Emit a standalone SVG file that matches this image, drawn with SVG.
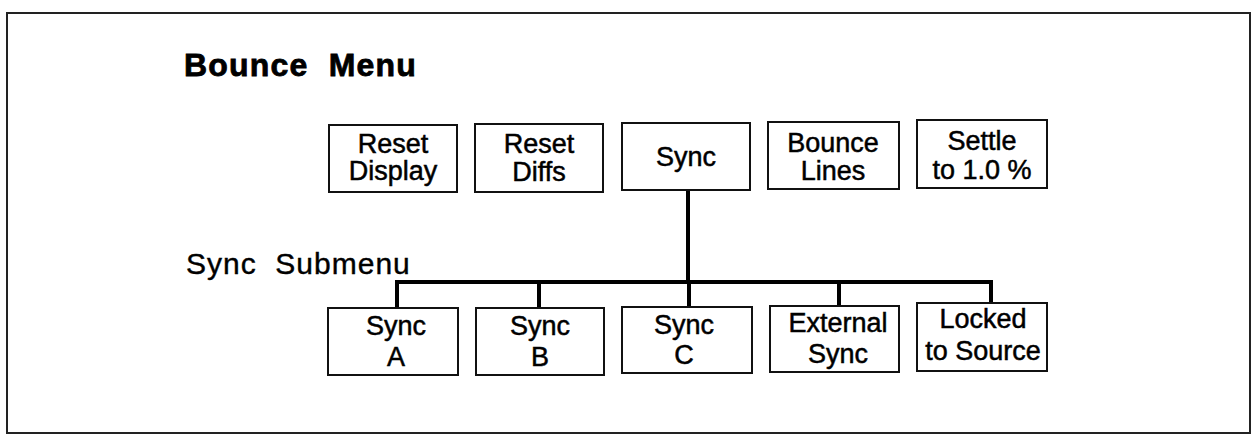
<svg xmlns="http://www.w3.org/2000/svg" width="1258" height="434" viewBox="0 0 1258 434">
<style>
.box{fill:#fff;stroke:#111;stroke-width:2}
.t{font-family:"Liberation Sans",Arial,sans-serif;font-size:27px;fill:#000;stroke:#000;stroke-width:0.5;text-anchor:middle}
.conn{fill:none;stroke:#000;stroke-width:4;stroke-linejoin:miter}
</style>
<rect x="0" y="0" width="1258" height="434" fill="#fff"/>
<rect x="7" y="13" width="1243" height="420" fill="none" stroke="#222" stroke-width="2"/>
<text x="184" y="76" font-family="'Liberation Sans',Arial,sans-serif" font-size="32" font-weight="bold" letter-spacing="1.2" stroke="#000" stroke-width="0.8">Bounce&#160; Menu</text>
<text x="186" y="274" font-family="'Liberation Sans',Arial,sans-serif" font-size="30" letter-spacing="1" stroke="#000" stroke-width="0.4">Sync&#160; Submenu</text>
<g id="connectors">
<path class="conn" d="M688 190 V282"/>
<path class="conn" d="M397 308 V282 H991 V304"/>
<path class="conn" d="M539 282 V308"/>
<path class="conn" d="M689 282 V307"/>
<path class="conn" d="M839 282 V306"/>
</g>
<g id="reset-display"><rect class="box" x="329" y="125" width="128" height="67"/><text class="t" x="393" y="153">Reset</text><text class="t" x="393" y="180">Display</text></g>
<g id="reset-diffs"><rect class="box" x="475" y="124" width="128" height="68"/><text class="t" x="539" y="153">Reset</text><text class="t" x="539" y="181">Diffs</text></g>
<g id="sync"><rect class="box" x="622" y="123" width="128" height="67"/><text class="t" x="686" y="166">Sync</text></g>
<g id="bounce-lines"><rect class="box" x="768" y="122" width="131" height="67"/><text class="t" x="833" y="152">Bounce</text><text class="t" x="833" y="180">Lines</text></g>
<g id="settle"><rect class="box" x="917" y="120" width="130" height="68"/><text class="t" x="982" y="150">Settle</text><text class="t" x="982" y="179">to 1.0 %</text></g>
<g id="sync-a"><rect class="box" x="328" y="308" width="130" height="67"/><text class="t" x="396" y="335">Sync</text><text class="t" x="396" y="366">A</text></g>
<g id="sync-b"><rect class="box" x="476" y="308" width="128" height="67"/><text class="t" x="540" y="335">Sync</text><text class="t" x="540" y="366">B</text></g>
<g id="sync-c"><rect class="box" x="622" y="307" width="130" height="66"/><text class="t" x="684" y="334">Sync</text><text class="t" x="684" y="364">C</text></g>
<g id="external-sync"><rect class="box" x="770" y="306" width="129" height="66"/><text class="t" x="838" y="332">External</text><text class="t" x="838" y="363">Sync</text></g>
<g id="locked-to-source"><rect class="box" x="917" y="303" width="130" height="68"/><text class="t" x="983" y="328">Locked</text><text class="t" x="983" y="360">to Source</text></g>
</svg>
